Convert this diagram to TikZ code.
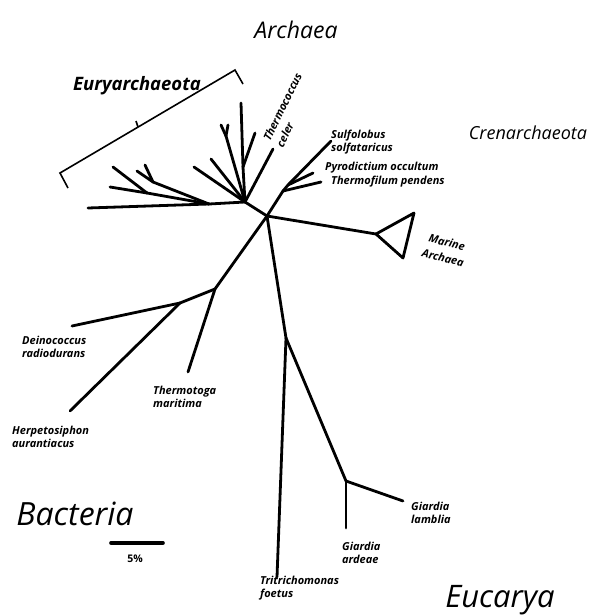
\documentclass[tikz,border=0pt]{standalone}
\usepackage{fontspec}
\setmainfont{Open Sans}
\begin{document}
\begin{tikzpicture}[x=1pt, y=-1pt,
    rama/.style={line width=2.8pt, line cap=round, line join=round},
    especie/.style={font=\bfseries\itshape\fontsize{11}{13.5}\selectfont, anchor=west, align=left, inner sep=0pt},
    dominio/.style={font=\itshape\fontsize{23}{27}\selectfont, inner sep=0pt}]
    \useasboundingbox (0,0) rectangle (589,615);

    % Nodos internos
    \coordinate (cen)  at (267,216);
    \coordinate (hub)  at (245,202);
    \coordinate (eu1)  at (209,204);
    \coordinate (eu2)  at (147,193);
    \coordinate (eu3)  at (153,182);
    \coordinate (eu4)  at (226,136);
    \coordinate (eu5)  at (243,167);
    \coordinate (cr1)  at (283,191);
    \coordinate (cr2)  at (288,185);
    \coordinate (mar)  at (376,234);
    \coordinate (ba1)  at (215,289);
    \coordinate (ba2)  at (180,303);
    \coordinate (ek1)  at (286,338);
    \coordinate (gia)  at (346,481);

    % Hojas
    \coordinate (h1)  at (88,208);
    \coordinate (h2)  at (113,167);
    \coordinate (h3)  at (110,187);
    \coordinate (h4)  at (137,171);
    \coordinate (h5)  at (145,165);
    \coordinate (h6)  at (194,167);
    \coordinate (h7)  at (211,159);
    \coordinate (h8)  at (221,125);
    \coordinate (h9)  at (228,125);
    \coordinate (h10) at (241,103);
    \coordinate (h11) at (255,133);
    \coordinate (tce)  at (273,149);
    \coordinate (sso)  at (331,141);
    \coordinate (poc)  at (313,173);
    \coordinate (tpe)  at (321,182);
    \coordinate (ma1)  at (414,213);
    \coordinate (ma2)  at (403,258);
    \coordinate (dra)  at (72,326);
    \coordinate (hau)  at (70,411);
    \coordinate (tma)  at (188,372);
    \coordinate (tfo)  at (277,577);
    \coordinate (gla)  at (403,501);
    \coordinate (gar)  at (346,528);

    % Ramas
    \foreach \a/\b in {cen/hub, hub/eu1, eu1/h1, eu1/eu2, eu2/h2, eu2/h3, eu1/eu3, eu3/h4, eu3/h5,
                       hub/h6, hub/h7, hub/eu4, eu4/h8, eu4/h9, hub/eu5, eu5/h10, eu5/h11, hub/tce,
                       cen/cr1, cr1/cr2, cr2/sso, cr2/poc, cr1/tpe, cen/mar,
                       cen/ba1, ba1/tma, ba1/ba2, ba2/dra, ba2/hau,
                       cen/ek1, ek1/tfo, ek1/gia, gia/gla, gia/gar} {
        \draw[rama] (\a) -- (\b);
    }
    \draw[rama] (mar) -- (ma1) -- (ma2) -- cycle;

    % Llave de Euryarchaeota
    \coordinate (ll1) at (68,188);
    \coordinate (ll2) at (60,173);
    \coordinate (ll3) at (235,70);
    \coordinate (ll4) at (243,84);
    \coordinate (ll5) at (138,127);
    \coordinate (ll6) at (136,121);
    \draw[line width=1.6pt] (ll1) -- (ll2) -- (ll3) -- (ll4);
    \draw[line width=1.6pt] (ll5) -- (ll6);

    % Escala
    \coordinate (es1) at (111,543);
    \coordinate (es2) at (163,543);
    \draw[line width=3.6pt, line cap=round] (es1) -- (es2);
    \node[font=\bfseries\fontsize{10.5}{12}\selectfont] (cinco) at (135,559) {5\%};

    % Dominios y grupos
    \node[dominio] (arq) at (296,30) {Archaea};
    \node[dominio, font=\bfseries\itshape\fontsize{18.5}{22}\selectfont] (eur) at (137,86) {Euryarchaeota};
    \node[dominio, font=\itshape\fontsize{18}{22}\selectfont] (cre) at (528,133) {Crenarchaeota};
    \node[dominio, font=\itshape\fontsize{32}{36}\selectfont] (bac) at (75,514) {Bacteria};
    \node[dominio, font=\itshape\fontsize{31}{36}\selectfont] (euc) at (500,600) {Eucarya};

    % Especies
    \node[especie, anchor=center, font=\bfseries\itshape\fontsize{11}{14.5}\selectfont, rotate=64] (lth) at (289,110) {Thermococcus\\celer};
    \node[especie] (lsu) at (331,142) {Sulfolobus\\solfataricus};
    \node[especie] (lpy) at (325,168) {Pyrodictium occultum};
    \node[especie] (ltf) at (331,182) {Thermofilum pendens};
    \node[especie, anchor=center, align=center, font=\bfseries\itshape\fontsize{11}{16}\selectfont, rotate=-14] (lma) at (445,250) {Marine\\Archaea};
    \node[especie] (lde) at (22,347) {Deinococcus\\radiodurans};
    \node[especie] (lhe) at (12,437) {Herpetosiphon\\aurantiacus};
    \node[especie] (ltm) at (153,397) {Thermotoga\\maritima};
    \node[especie] (ltr) at (260,588) {Tritrichomonas\\foetus};
    \node[especie] (lga) at (342,553) {Giardia\\ardeae};
    \node[especie] (lgl) at (411,513) {Giardia\\lamblia};
\end{tikzpicture}
\end{document}
